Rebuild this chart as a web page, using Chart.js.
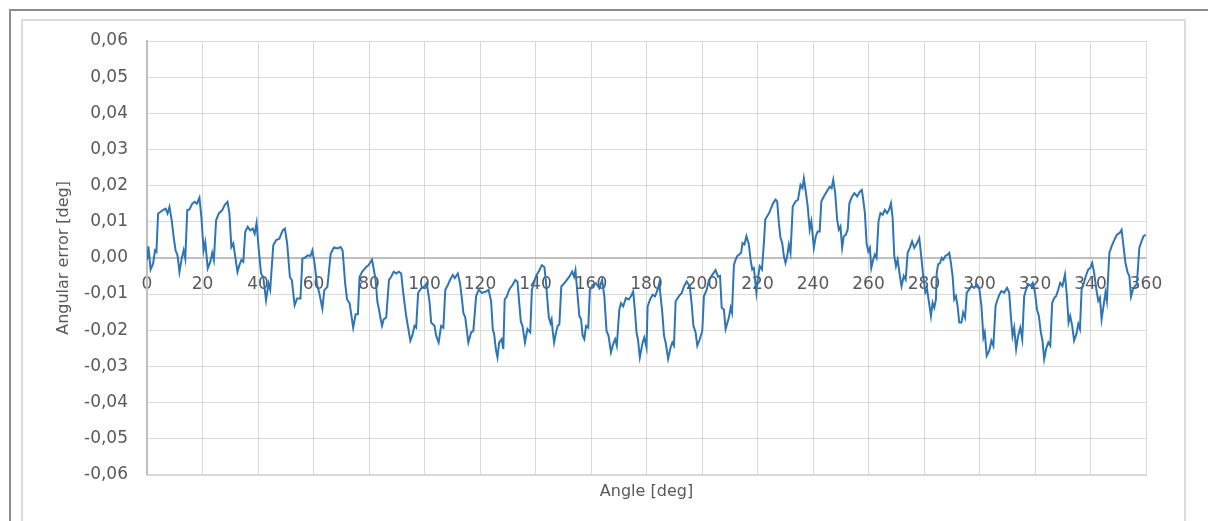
<!DOCTYPE html>
<html>
<head>
<meta charset="utf-8">
<script src="https://cdn.jsdelivr.net/npm/chart.js@4/dist/chart.umd.min.js"></script>
<style>
  html, body { margin: 0; padding: 0; background: #fff; }
  #wrap { position: relative; width: 1208px; height: 521px; overflow: hidden; }
  #outer { position: absolute; left: 9px; top: 9px; width: 1240px; height: 560px; border: 2px solid #8c8c8c; box-sizing: border-box; }
  #inner { position: absolute; left: 21px; top: 19px; width: 1165px; height: 560px; border: 2px solid #dcdcdc; box-sizing: border-box; }
  canvas { position: absolute; left: 0; top: 0; }
</style>
</head>
<body>
<div id="wrap">
  <div id="outer"></div>
  <div id="inner"></div>
  <canvas id="errChart" width="1208" height="521"></canvas>
</div>
<script>
// angle along one revolution [deg]
const angleDeg = [
  0.0, 0.5, 1.3, 2.2, 2.9, 3.4, 4.0, 4.8, 5.7, 6.7, 7.4, 8.1, 8.9, 9.6, 10.3, 11.0, 11.7, 12.5, 13.2, 13.8,
  14.5, 15.3, 16.3, 17.2, 18.0, 18.9, 19.6, 20.4, 21.0, 21.9, 22.8, 23.5, 24.1, 24.9, 25.9, 27.1, 28.0, 29.0, 29.7, 30.4,
  31.1, 31.9, 32.6, 33.3, 34.0, 34.7, 35.4, 36.3, 37.2, 38.1, 38.8, 39.5, 40.2, 41.1, 41.9, 42.9, 43.8, 44.4, 45.5, 46.5,
  47.7, 48.9, 49.7, 50.5, 51.5, 52.2, 53.2, 54.1, 55.3, 56.0, 57.0, 57.9, 58.9, 59.6, 60.4, 61.3, 62.0, 63.2, 63.9, 65.0,
  66.2, 67.4, 68.6, 69.8, 70.5, 71.4, 72.1, 73.0, 74.3, 75.2, 76.0, 76.6, 77.6, 79.0, 79.9, 81.1, 82.4, 83.0, 83.6, 84.1,
  84.7, 85.3, 86.2, 87.2, 88.0, 88.9, 89.8, 90.8, 91.6, 92.2, 92.8, 93.4, 94.0, 94.9, 95.6, 96.4, 97.0, 97.7, 98.8, 100.0,
  100.8, 101.8, 102.4, 103.6, 104.2, 105.1, 106.0, 106.8, 107.5, 108.4, 109.2, 110.2, 110.9, 112.0, 112.8, 113.5, 114.0, 114.7, 115.2, 115.8,
  116.8, 117.6, 118.6, 119.5, 120.7, 122.2, 123.1, 124.0, 124.6, 125.1, 125.7, 126.3, 126.9, 127.8, 128.4, 128.9, 129.7, 130.5, 131.7, 132.7,
  133.5, 134.7, 135.3, 136.2, 137.1, 138.1, 138.7, 140.1, 141.4, 142.3, 143.2, 143.8, 144.8, 145.4, 145.8, 146.2, 146.7, 147.4, 148.0, 148.6,
  149.3, 150.4, 151.3, 152.2, 153.2, 153.9, 154.4, 155.2, 155.8, 156.4, 157.0, 157.6, 158.2, 159.0, 159.6, 160.6, 161.8, 163.0, 164.0, 164.8,
  165.6, 166.3, 167.2, 168.0, 168.7, 169.3, 170.2, 170.8, 171.6, 172.6, 173.6, 174.4, 175.2, 175.8, 176.4, 176.9, 177.6, 178.6, 179.2, 180.0,
  180.4, 181.3, 182.2, 183.1, 184.0, 184.6, 185.7, 186.3, 186.9, 187.8, 188.7, 189.3, 189.9, 190.5, 191.7, 192.7, 193.5, 194.5, 195.6, 196.3,
  196.9, 197.7, 198.3, 199.2, 200.1, 200.7, 201.7, 202.5, 203.7, 204.9, 205.8, 206.5, 207.1, 207.9, 208.5, 209.7, 210.3, 210.8, 211.5, 212.1,
  212.7, 213.3, 214.1, 214.6, 215.3, 216.0, 216.9, 217.5, 218.1, 218.7, 219.3, 219.6, 220.1, 220.8, 221.6, 222.3, 222.8, 223.5, 224.2, 224.9,
  225.6, 226.5, 227.1, 227.7, 228.3, 228.9, 229.5, 230.1, 230.7, 231.3, 231.9, 232.7, 233.7, 234.6, 235.5, 236.2, 236.7, 237.4, 238.1, 238.8,
  239.4, 240.3, 241.0, 241.7, 242.4, 243.0, 243.9, 244.6, 245.3, 246.0, 246.7, 247.3, 248.0, 248.7, 249.3, 249.9, 250.5, 251.1, 251.8, 252.5,
  253.1, 254.1, 254.9, 255.9, 256.9, 257.6, 258.1, 258.7, 259.3, 259.9, 260.5, 261.0, 261.7, 262.3, 262.9, 263.6, 264.3, 265.1, 265.9, 266.7,
  267.4, 268.1, 268.7, 269.3, 269.9, 270.5, 271.3, 271.9, 272.7, 273.4, 274.1, 274.9, 275.7, 276.5, 277.5, 278.3, 279.0, 279.6, 280.5, 281.1,
  282.0, 282.5, 283.1, 283.7, 284.3, 284.6, 285.1, 285.8, 286.4, 287.0, 287.6, 288.5, 289.1, 289.7, 290.3, 290.9, 291.5, 292.1, 292.7, 293.5,
  294.1, 294.8, 295.4, 296.3, 297.1, 298.1, 299.0, 299.9, 300.7, 301.4, 301.9, 302.6, 303.5, 304.3, 305.0, 305.8, 306.5, 307.2, 307.9, 308.9,
  309.9, 310.7, 311.3, 311.9, 312.5, 313.2, 313.9, 314.7, 315.4, 316.1, 316.8, 317.7, 318.5, 319.2, 320.0, 320.7, 321.4, 322.1, 322.7, 323.3,
  324.0, 324.8, 325.5, 326.2, 327.0, 327.6, 328.4, 329.1, 329.9, 330.8, 331.5, 332.1, 332.7, 333.4, 334.1, 334.9, 335.6, 336.2, 336.8, 337.5,
  338.3, 339.2, 339.9, 340.6, 341.3, 342.1, 342.8, 343.4, 344.0, 344.7, 345.4, 345.9, 346.8, 347.6, 348.6, 349.5, 350.5, 351.2, 351.9, 352.6,
  353.4, 354.0, 354.6, 355.3, 356.0, 356.7, 357.6, 358.4, 359.1, 359.9
];

// angular error, in thousandths of a degree (same order as angleDeg)
const angularErrorMdeg = [
  -0.6, 3.2, -3.2, -1.6, 2.1, 1.7, 12.3, 12.7, 13.2, 13.6, 12.3, 14.1, 10.4, 5.8, 2.1, 0.7, -3.9, -0.2, 2.1, -0.2,
  13.2, 13.4, 15.0, 15.5, 15.0, 16.7, 11.3, 2.1, 4.4, -2.9, -1.1, 1.4, -0.6, 10.4, 12.3, 13.2, 14.6, 15.5, 12.3, 3.0,
  4.0, -0.2, -3.9, -2.0, -0.6, -1.1, 7.2, 8.6, 7.6, 8.1, 6.7, 9.7, 3.0, -4.3, -5.3, -11.7, -7.1, -8.8, 3.5, 4.9,
  5.3, 7.6, 8.1, 4.0, -5.3, -6.2, -13.1, -11.2, -11.2, -0.2, 0.1, 0.7, 0.5, 2.1, -1.6, -7.6, -9.4, -14.0, -8.9, -8.0,
  1.2, 2.9, 2.6, 3.0, 2.0, -7.0, -11.5, -12.5, -19.3, -15.6, -15.6, -5.2, -3.8, -2.5, -2.0, -0.5, -6.1, -12.0, -14.3, -16.5,
  -18.8, -17.0, -16.5, -6.1, -5.2, -3.8, -4.3, -3.8, -4.3, -8.8, -12.5, -16.1, -18.8, -22.9, -21.5, -18.8, -19.3, -9.7, -8.4, -7.9,
  -7.0, -12.0, -17.9, -18.8, -21.5, -23.4, -18.8, -19.3, -8.8, -7.5, -6.1, -4.7, -5.6, -4.3, -7.0, -11.5, -15.2, -16.5, -19.7, -23.4,
  -20.6, -20.2, -10.6, -8.8, -9.7, -9.3, -8.8, -12.0, -19.7, -21.1, -25.2, -27.5, -23.4, -22.5, -25.2, -11.5, -10.6, -8.8, -7.5, -6.1,
  -6.6, -17.5, -18.8, -23.4, -19.7, -20.6, -8.8, -5.2, -3.4, -2.0, -2.5, -7.0, -16.5, -18.0, -17.0, -20.2, -23.4, -20.6, -18.8, -18.4,
  -7.9, -7.0, -6.1, -5.2, -3.8, -5.2, -3.4, -10.6, -16.1, -16.9, -21.5, -22.5, -18.8, -19.3, -8.8, -7.5, -7.0, -8.4, -6.1, -10.6,
  -20.2, -21.5, -26.1, -23.8, -22.5, -24.3, -14.3, -12.5, -13.4, -11.1, -11.5, -10.6, -9.3, -14.3, -20.6, -22.5, -27.5, -23.4, -22.0, -24.7,
  -13.4, -11.5, -10.2, -10.6, -8.8, -7.0, -15.2, -21.5, -23.4, -27.9, -24.7, -23.4, -24.3, -12.0, -10.6, -9.7, -7.9, -6.5, -7.9, -12.9,
  -18.8, -20.6, -24.3, -22.5, -20.2, -10.6, -8.8, -6.1, -4.7, -3.4, -5.2, -5.0, -13.8, -14.3, -19.7, -16.5, -13.8, -15.2, -2.0, -0.5,
  0.5, 0.9, 1.4, 4.1, 3.7, 6.0, 3.7, -0.5, -3.2, -2.8, -7.3, -9.6, -6.0, -2.3, -3.2, 4.1, 10.6, 11.5, 12.4, 13.8,
  15.1, 16.1, 15.6, 9.6, 5.5, 4.1, 0.5, -1.4, 0.5, 3.7, 1.4, 14.2, 15.6, 16.1, 20.2, 19.3, 22.0, 18.3, 14.2, 7.8,
  10.1, 2.8, 6.0, 7.3, 7.3, 15.6, 17.0, 17.9, 18.8, 19.7, 19.3, 21.6, 17.9, 10.6, 7.8, 8.7, 2.8, 6.0, 6.4, 7.8,
  15.1, 17.0, 17.9, 17.0, 18.3, 18.8, 16.1, 12.4, 4.1, 1.8, 2.8, -2.8, -0.5, 0.9, 0.0, 10.1, 12.4, 11.9, 13.3, 12.4,
  13.3, 15.1, 11.0, 0.5, -2.3, -0.5, -5.0, -7.8, -5.0, -6.0, 1.4, 2.8, 4.6, 2.8, 4.1, 5.5, 0.5, -4.1, -9.6, -8.7,
  -13.3, -16.1, -12.4, -13.8, -11.5, -4.1, -1.8, -1.4, 0.0, -0.5, 0.5, 0.9, 1.4, -1.4, -5.0, -11.5, -10.6, -13.3, -17.9, -17.9,
  -15.1, -16.5, -9.6, -8.7, -7.8, -8.3, -7.3, -8.3, -13.3, -22.0, -20.6, -27.1, -25.7, -22.9, -24.3, -13.3, -11.5, -10.1, -9.2, -9.6,
  -8.3, -9.6, -16.1, -21.6, -19.3, -25.2, -21.6, -19.3, -22.5, -10.6, -8.7, -7.3, -7.8, -6.9, -9.6, -14.2, -16.1, -20.6, -22.9, -28.0,
  -25.2, -23.4, -24.3, -12.4, -11.0, -10.6, -8.7, -6.9, -7.8, -4.6, -10.6, -17.9, -16.1, -18.8, -22.9, -21.1, -18.3, -19.7, -8.7, -7.3,
  -5.0, -3.2, -2.8, -1.4, -4.1, -8.7, -11.9, -11.0, -17.0, -13.3, -9.6, -11.9, 1.4, 3.2, 5.0, 6.4, 6.9, 7.8, 3.2, -1.4,
  -4.1, -5.0, -10.7, -8.7, -7.8, -7.3, 2.8, 4.6, 6.0, 6.4
];

// axis ranges and tick steps
const X_MIN = 0, X_MAX = 360, X_STEP = 20;
const Y_MIN = -0.06, Y_MAX = 0.06, Y_STEP = 0.01;

const points = angleDeg.map((a, i) => ({ x: a, y: angularErrorMdeg[i] / 1000 }));
const isZero = v => Math.abs(v) < 1e-9;
const fmt = v => (isZero(v) ? 0 : v).toFixed(2).replace('.', ',');
const txt = '#595959';
const tickFont = { family: 'DejaVu Sans', size: 17 };
const titleFont = { family: 'DejaVu Sans', size: 16 };

new Chart(document.getElementById('errChart'), {
  type: 'line',
  data: {
    datasets: [{
      data: points,
      xAxisID: 'x',
      yAxisID: 'y',
      borderColor: '#2e75b6',
      borderWidth: 2,
      pointRadius: 0,
      tension: 0,
      fill: false
    }]
  },
  options: {
    responsive: false,
    animation: false,
    layout: { padding: { left: 54, top: 41, right: 62, bottom: 20 } },
    plugins: { legend: { display: false }, tooltip: { enabled: false } },
    scales: {
      x: {
        type: 'linear', position: 'bottom', min: X_MIN, max: X_MAX,
        ticks: { display: false, stepSize: X_STEP },
        grid: { color: '#d9d9d9', drawTicks: false },
        border: { color: '#d9d9d9', width: 2 },
        title: { display: true, text: 'Angle [deg]', color: txt, font: titleFont, padding: { top: 7, bottom: 0 } }
      },
      xl: {
        type: 'linear', axis: 'x', position: { y: 0 }, min: X_MIN, max: X_MAX,
        ticks: { stepSize: X_STEP, color: txt, font: tickFont, padding: 16, autoSkip: false, maxRotation: 0 },
        grid: { display: false, drawTicks: false },
        border: { display: false }
      },
      y: {
        type: 'linear', position: 'left', min: Y_MIN, max: Y_MAX,
        ticks: { stepSize: Y_STEP, callback: fmt, color: txt, font: tickFont, padding: 19 },
        grid: {
          color: c => isZero(c.tick.value) ? '#bfbfbf' : '#d9d9d9',
          lineWidth: c => isZero(c.tick.value) ? 2 : 1,
          drawTicks: false
        },
        border: { color: '#bfbfbf', width: 2 },
        title: { display: true, text: 'Angular error [deg]', color: txt, font: titleFont, padding: 0 },
        afterFit: s => { s.width = 93; }
      }
    }
  }
});
</script>
</body>
</html>
